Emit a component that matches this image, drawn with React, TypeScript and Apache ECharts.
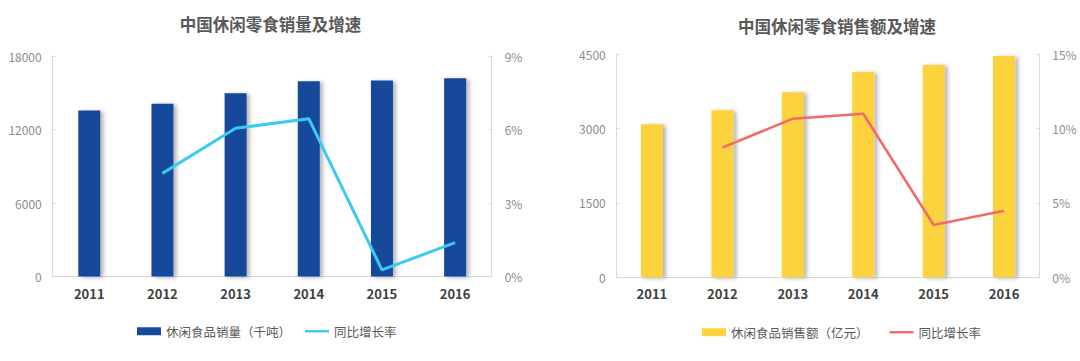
import React, { useEffect, useRef } from "react";
import * as echarts from "echarts";

const years = ["2011", "2012", "2013", "2014", "2015", "2016"];

// Left chart: sales volume (thousand tons) and YoY growth (%)
const volumeTitle = "中国休闲零食销量及增速";
const volumeName = "休闲食品销量（千吨）";
const volumeValues = [13550, 14100, 14950, 15940, 15990, 16180];
const volumeGrowth: (number | string)[] = ["-", 4.21, 6.05, 6.44, 0.27, 1.38];

// Right chart: sales amount (100 million yuan) and YoY growth (%)
const amountTitle = "中国休闲零食销售额及增速";
const amountName = "休闲食品销售额（亿元）";
const amountValues = [3090, 3370, 3733, 4143, 4284, 4466];
const amountGrowth: (number | string)[] = ["-", 8.72, 10.67, 11.0, 3.52, 4.48];

const growthName = "同比增长率";

const FONT = "'Noto Sans CJK SC', 'Noto Sans', sans-serif";
const AXIS_COLOR = "#d9d9d9";

function buildOption(cfg: {
  title: string;
  titleX: number;
  titleTop: number;
  barName: string;
  bars: number[];
  line: (number | string)[];
  barColor: string;
  lineColor: string;
  lineWidth: number;
  leftMax: number;
  leftInterval: number;
  rightMax: number;
  rightInterval: number;
  grid: { left: number; right: number; top: number; bottom: number };
  legendLeft: number;
  legendTop: number;
  legendGap: number;
}) {
  const yAxisCommon = {
    type: "value",
    min: 0,
    splitLine: { show: false },
    axisLine: { show: true, lineStyle: { color: AXIS_COLOR, width: 1 } },
    axisTick: { show: true, inside: true, length: 3, lineStyle: { color: AXIS_COLOR } },
  };
  return {
    animation: false,
    title: {
      text: cfg.title,
      left: cfg.titleX,
      top: cfg.titleTop,
      textAlign: "center",
      padding: 0,
      textStyle: {
        fontFamily: FONT,
        fontSize: 16.5,
        fontWeight: "bold",
        color: "#595959",
      },
    },
    legend: {
      left: cfg.legendLeft,
      top: cfg.legendTop,
      padding: 0,
      itemWidth: 24,
      itemHeight: 8,
      itemGap: cfg.legendGap,
      textStyle: { fontFamily: FONT, fontSize: 12.5, color: "#595959" },
      data: [
        { name: cfg.barName, icon: "rect" },
        { name: growthName, icon: "path://M0,0H30V3H0Z" },
      ],
    },
    grid: { ...cfg.grid, containLabel: false },
    xAxis: {
      type: "category",
      data: years,
      axisLine: { show: true, lineStyle: { color: AXIS_COLOR, width: 1 } },
      axisTick: { show: false },
      axisLabel: {
        margin: 10,
        fontFamily: FONT,
        fontSize: 13,
        fontWeight: "bold",
        color: "#404040",
      },
    },
    yAxis: [
      {
        ...yAxisCommon,
        max: cfg.leftMax,
        interval: cfg.leftInterval,
        axisLabel: {
          margin: 11,
          fontFamily: FONT,
          fontSize: 12,
          color: "#8c8c8c",
          formatter: (v: number) => String(v),
        },
      },
      {
        ...yAxisCommon,
        max: cfg.rightMax,
        interval: cfg.rightInterval,
        axisLabel: {
          margin: 13,
          fontFamily: FONT,
          fontSize: 12,
          color: "#8c8c8c",
          formatter: (v: number) => v + "%",
        },
      },
    ],
    series: [
      {
        name: cfg.barName,
        type: "bar",
        data: cfg.bars,
        barWidth: 22,
        itemStyle: {
          color: cfg.barColor,
          shadowColor: "rgba(0,0,0,0.3)",
          shadowBlur: 4,
          shadowOffsetX: 3,
          shadowOffsetY: 1,
        },
      },
      {
        name: growthName,
        type: "line",
        yAxisIndex: 1,
        data: cfg.line,
        showSymbol: false,
        symbol: "none",
        lineStyle: { color: cfg.lineColor, width: cfg.lineWidth },
        itemStyle: { color: cfg.lineColor },
      },
    ],
  };
}

function Chart(props: { option: any; left: number; width: number }) {
  const ref = useRef<HTMLDivElement>(null);
  useEffect(() => {
    if (!ref.current) return;
    const chart = echarts.init(ref.current, undefined, { renderer: "svg" });
    chart.setOption(props.option);
    return () => chart.dispose();
  }, []);
  return (
    <div
      ref={ref}
      style={{
        position: "absolute",
        left: props.left,
        top: 0,
        width: props.width,
        height: 361,
      }}
    />
  );
}

export default function App() {
  useEffect(() => {
    document.body.style.margin = "0";
    document.body.style.background = "#ffffff";
  }, []);

  const leftOption = buildOption({
    title: volumeTitle,
    titleX: 270.5,
    titleTop: 16,
    barName: volumeName,
    bars: volumeValues,
    line: volumeGrowth,
    barColor: "#174a9c",
    lineColor: "#3ccaf4",
    lineWidth: 3,
    leftMax: 18000,
    leftInterval: 6000,
    rightMax: 9,
    rightInterval: 3,
    grid: { left: 52.7, right: 48.3, top: 56, bottom: 84.5 },
    legendLeft: 137,
    legendTop: 325,
    legendGap: 14,
  });

  const rightOption = buildOption({
    title: amountTitle,
    titleX: 297,
    titleTop: 17.5,
    barName: amountName,
    bars: amountValues,
    line: amountGrowth,
    barColor: "#fdd33c",
    lineColor: "#ef6c6a",
    lineWidth: 2.6,
    leftMax: 4500,
    leftInterval: 1500,
    rightMax: 15,
    rightInterval: 5,
    grid: { left: 76.7, right: 40.7, top: 54.3, bottom: 83.7 },
    legendLeft: 162,
    legendTop: 326,
    legendGap: 21,
  });

  return (
    <div style={{ position: "relative", width: 1080, height: 361, background: "#fff" }}>
      <Chart option={leftOption} left={0} width={540} />
      <Chart option={rightOption} left={540} width={540} />
    </div>
  );
}
